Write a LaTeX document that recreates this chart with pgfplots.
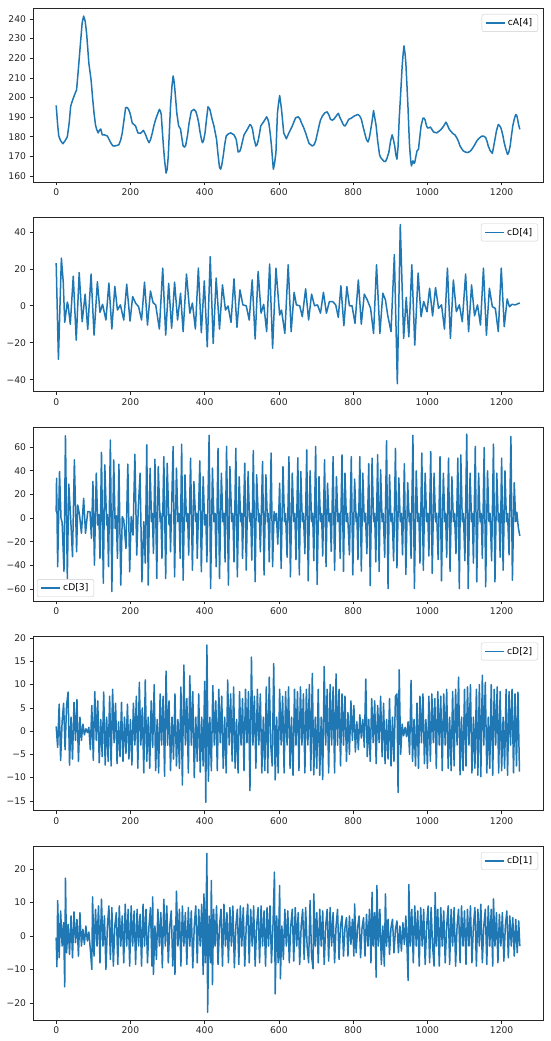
\documentclass[border=0pt]{standalone}
\usepackage{fontspec}
\setmainfont{DejaVu Sans}
\usepackage{pgfplots}
\pgfplotsset{compat=1.18}
\definecolor{mplblue}{RGB}{31,119,180}
\pgfplotsset{
 panel/.style={
  anchor=north west, scale only axis, width=510pt, height=174pt,
  xmin=-62.45, xmax=1311.45,
  xtick={0,200,400,600,800,1000,1200},
  xticklabels={0,200,400,600,800,1000,1200},
  tick align=outside, xtick pos=lower, ytick pos=lower,
  major tick length=3.5pt,
  tick style={black!85, line width=0.7pt},
  axis line style={black!85, line width=0.7pt},
  tick label style={font=\fontsize{9.2}{10}\selectfont, text=black!85},
  legend style={draw=black!20, rounded corners=2pt, fill=white, fill opacity=0.8, text opacity=1,
    font=\fontsize{9.2}{10}\selectfont, inner xsep=3.5pt, inner ysep=2.5pt},
  legend cell align=left,
  legend image code/.code={\draw[##1] (0pt,0pt) -- (19pt,0pt);},
 },
 ser/.style={mplblue, line width=1.5pt, line join=round, mark=none},
 ur/.style={legend style={at={(1,1)}, anchor=north east, xshift=-5pt, yshift=-6pt}},
 ll/.style={legend style={at={(0,0)}, anchor=south west, xshift=4pt, yshift=4pt}},
}
\begin{document}
\begin{tikzpicture}
\useasboundingbox (0,0) rectangle (550pt,-1041pt);
% ---------------- cA[4]
\begin{axis}[panel, ur, at={(33pt,-8pt)}, ymin=157, ymax=245.6,
  ytick={160,170,180,190,200,210,220,230,240},
  yticklabels={160,170,180,190,200,210,220,230,240}]
\addplot[ser] coordinates {(0,196)(4,186)(7,180.4)(12,178)(18,176.5)(24,178)(30,180)(35,187)(39,195.6)(44,198.5)(48,200.7)(55,204)(60,215)(66,229)(70,238)(74,241.5)(78,239)(82,232.7)(88,217.5)(94,209)(98,200)(102,192)(106,186)(109,183.8)(113,182)(117,183.5)(120,184)(124,181)(130,181)(138,180.4)(147,177)(152,175.5)(156,175.3)(162,175.5)(169,176)(174,178.5)(178,182)(183,189)(187,194.8)(191,195)(195,194)(199,192)(205,187)(214,185.5)(220,182)(227,181.8)(231,182.5)(235,183.3)(241,181)(246,178.5)(250,177)(254,178.5)(259,182)(263,185.5)(268,188.9)(273,191.5)(278,194)(281,193)(283,191.4)(286,183)(289,175)(292,168)(296,161.5)(299,163.5)(302,170.3)(305,183)(308,195.6)(312,206)(315,211)(317,209)(319,205.7)(322,199)(325,192)(330,185.5)(335,184)(338,180)(342,175.3)(346,174.8)(349,175.7)(354,181)(358,187)(364,193)(371,194)(376,193)(380,190.5)(384,187)(387,183)(391,179)(394,177)(397,178)(401,182)(405,189)(409,195.3)(414,194)(420,189)(425,185.5)(432,178.7)(436,171)(440,164.4)(443,163.5)(446,165.5)(450,170.3)(454,176)(458,180.4)(464,181.5)(470,182)(475,181.5)(479,181)(485,178.7)(488,175)(490,172.3)(494,172.5)(497,173.7)(501,177)(506,181)(515,183.8)(522,186.3)(526,185.5)(529,183.8)(533,179)(538,175.3)(541,176)(544,177.9)(548,182)(551,185.5)(560,188)(567,190.2)(570,189)(573,187)(577,181)(580,175.3)(583,168)(585,163.5)(588,166)(592,172)(596,192)(599,197)(602,201)(605,197)(607,194)(610,188)(613,182)(620,179)(627,182)(636,185.5)(645,189.7)(652,190.2)(657,189)(661,187)(666,185)(672,182)(677,179)(681,176.7)(690,175.3)(695,176)(699,177.9)(704,182)(708,185.5)(712,188.5)(717,190.5)(724,192.3)(730,192.7)(735,191)(739,188.9)(744,188.5)(748,189)(754,190.5)(760,192)(764,190)(769,188)(774,186)(778,185.5)(783,187)(788,188.9)(795,189.5)(802,190.5)(808,191)(813,191.4)(818,190.5)(822,189)(827,185)(831,182)(836,178.5)(840,177.4)(843,179)(846,182)(851,188)(855,193.4)(858,190)(862,185.5)(866,178)(871,171)(874,169.5)(878,168.6)(883,167.5)(887,167.4)(891,169)(896,172)(901,178)(905,181)(908,179)(912,175.3)(915,171)(918,168.6)(921,175)(924,188.9)(928,202)(932,215.9)(935,223)(937,226.3)(940,222)(942,217.5)(945,206)(948,194)(950,184)(952,175.3)(955,168)(957,165.2)(959,166.5)(961,167.8)(964,166.5)(966,167)(969,170)(972,172.8)(976,173.7)(979,179)(983,185.5)(988,189.5)(991,189.5)(994,188.5)(997,186)(1000,184.6)(1004,184.5)(1008,185)(1012,183.8)(1017,182.4)(1025,182)(1031,182.8)(1037,183.8)(1044,185.5)(1050,187.5)(1054,186)(1059,183.8)(1068,181.8)(1074,181)(1079,179.6)(1084,177.5)(1088,175.3)(1093,173.8)(1097,172.8)(1103,172.2)(1109,172)(1115,172.6)(1120,173.7)(1127,175.8)(1133,177.9)(1140,179.4)(1147,180.4)(1152,180.3)(1157,179.6)(1161,177.5)(1164,175.3)(1169,173)(1175,171.6)(1178,174.5)(1182,178.7)(1186,183)(1191,186.3)(1194,185.8)(1198,184.6)(1203,181)(1207,177)(1211,174)(1216,171)(1219,172)(1223,175.3)(1226,180)(1230,185.5)(1234,189)(1238,191.4)(1241,190.8)(1243,188.9)(1246,186)(1249,183.8)};
\addlegendentry{cA[4]}
\end{axis}
% ---------------- cD[4]
\begin{axis}[panel, ur, at={(33pt,-217.5pt)}, ymin=-46.4, ymax=47.8,
  ytick={-40,-20,0,20,40}, yticklabels={−40,−20,0,20,40}]
\addplot[ser] coordinates {(0,23.1)(6,-29)(14,25.8)(19,13)(23,-9)(30,2)(32,0.5)(38,-10)(46,16)(54,-18.6)(62,18)(70,-8.6)(78,6.3)(85,-12.8)(94,17.2)(102,-15.9)(111,13)(118,-3.5)(125,0.8)(134,-7.7)(142,12.3)(150,-12.6)(158,10.5)(165,-2.3)(173,0.5)(182,-7.7)(190,11.7)(199,-8.3)(206,5)(214,1.4)(222,-0.5)(230,-7.7)(238,12.8)(246,-10.4)(254,8)(261,1.7)(268,0.5)(278,-12.6)(287,20.4)(295,-15.9)(303,12.2)(311,-12.2)(319,12.8)(327,-7.7)(335,6.8)(342,-14)(351,17.2)(360,-4)(367,1.5)(375,-12.6)(383,20.4)(391,-14.6)(399,13.5)(407,-22.2)(415,26.6)(423,-20.4)(431,15)(440,-12.6)(448,11.3)(456,-2.3)(463,-0.1)(471,-9)(479,14.6)(487,-11.7)(495,8.6)(503,0.5)(512,0)(520,-7.7)(528,14)(536,-18)(544,18.6)(552,-4)(559,0.8)(567,-14)(575,22.6)(583,-23)(592,20.4)(602,-5)(607,-2.3)(616,-15)(625,22.2)(633,-14)(641,7.3)(647,0.5)(656,0)(663,-5.9)(672,9.2)(680,-7.7)(688,6.3)(696,0)(704,0.5)(712,-4)(720,7.3)(728,-4)(736,2.3)(745,2.3)(753,0.5)(760,-6.3)(767,10.8)(775,-10.8)(783,10.4)(790,0)(797,0)(805,-9.5)(814,14)(822,-10)(830,6.3)(838,3.2)(847,-1.4)(855,-15)(863,22.2)(872,-15)(880,6.8)(887,3.2)(893,-5)(902,-14)(911,27.7)(919,-42.2)(927,44)(936,-17.7)(943,4.5)(950,-16.8)(958,22.2)(966,-21.3)(975,17.7)(983,-5.9)(990,2.3)(999,-3.2)(1006,9.5)(1014,-5.5)(1022,9.9)(1030,-1.4)(1038,0.5)(1046,-12.6)(1054,20.4)(1062,-17.7)(1070,14)(1078,-3.2)(1086,0.5)(1094,-8.6)(1103,17.2)(1111,-14)(1119,11.3)(1127,-5.4)(1135,0.5)(1143,-10.4)(1151,20.4)(1159,-15.9)(1167,9.5)(1175,-0.5)(1183,-1.4)(1191,-14)(1199,20.4)(1207,-11.3)(1215,3.7)(1221,-0.5)(1228,0.8)(1237,0.5)(1247,1.4)(1249,1.5)};
\addlegendentry{cD[4]}
\end{axis}
% ---------------- cD[3]
\begin{axis}[panel, ll, at={(33pt,-427pt)}, ymin=-70, ymax=77,
  ytick={-60,-40,-20,0,20,40,60}, yticklabels={−60,−40,−20,0,20,40,60}]
\addplot[ser] coordinates {(0,5.5)(1,33.7)(4,-41)(9,39.4)(13,0)(16,-3.5)(21,-45)(25,69.6)(30,-51)(34,28.7)(39,0)(44,-32.6)(49,49.3)(55,-28.4)(58,11.1)(63,2.6)(68,-12.8)(74,16.8)(79,-12.8)(85,5.6)(91,5.6)(95,-17)(99,31)(103,-39.7)(108,38)(112,-5.8)(115,3)(118,-34)(122,55.5)(127,-55)(131,45)(136,-5.8)(138,3)(141,-41)(146,66)(150,-62)(155,49.3)(159,-8.6)(162,2)(165,-34)(169,45.6)(174,-56.6)(178,1.3)(182,-1.5)(188,-25.6)(193,45.6)(198,-45.3)(202,1.3)(207,-14.3)(212,54)(217,-31.2)(221,6.9)(226,38)(231,-53.8)(236,-3)(240,-38)(244,62)(248,-56.6)(253,42.2)(257,-3)(259,4)(262,-29.8)(266,49.8)(271,-51)(275,43.6)(280,-3)(282,4)(285,-34)(290,52)(295,-51)(299,46.4)(304,-5.8)(306,3)(308,-28.4)(315,60.6)(319,-49.6)(324,42.2)(328,-3)(331,4)(334,-34)(338,62.5)(342,-52.4)(347,36.6)(351,-3)(354,4)(357,-31.2)(362,50.7)(367,-44)(371,31)(376,-3)(378,4)(380,-34)(387,48.4)(391,-45.3)(396,35)(400,-5.8)(403,3)(406,-37)(412,70)(416,-59.5)(421,42.2)(425,-3)(428,4)(431,-41)(436,59)(440,-51)(445,38)(449,-3)(452,4)(455,-37)(459,60.6)(464,-56.6)(468,43.6)(473,-3)(476,4)(479,-37)(484,59)(488,-49.6)(493,35)(497,-3)(500,4)(502,-34)(508,46.4)(512,-44)(517,39.4)(521,-3)(524,4)(527,-35.5)(531,57)(536,-53.8)(540,36.6)(545,-3)(547,4)(550,-28.4)(556,47.9)(560,-48)(565,36.6)(569,-3)(571,4)(574,-37)(579,55)(583,-41)(587,5.5)(590,-2)(593,4)(597,-22)(602,29.5)(606,-42.5)(611,43.6)(615,-3)(618,4)(622,-33)(627,52)(631,-49.6)(636,38)(640,-3)(643,4)(646,-35)(651,51)(655,-48)(659,39.4)(663,-3)(666,4)(670,-30)(675,57.7)(679,-53)(684,40)(688,-3)(691,4)(694,-36)(699,60.6)(703,-56)(708,35)(712,-3)(715,4)(718,-32)(723,49.3)(727,-41)(731,29.5)(735,-3)(738,4)(741,-28)(746,52)(750,-44)(755,35)(759,-3)(762,4)(765,-34)(770,53.5)(774,-45)(778,38)(782,-3)(785,4)(790,-31)(795,52)(799,-48)(804,33)(808,-3)(810,4)(813,-35)(818,52)(822,-44.8)(826,38)(830,-3)(833,4)(837,-30)(842,46)(846,-57)(851,50.7)(855,-3)(858,4)(861,-37)(866,53.5)(870,-45)(874,40.8)(878,-3)(881,4)(885,-33)(890,65.4)(894,-59.5)(898,36.6)(902,-3)(905,4)(909,-36)(914,59)(918,-42)(923,34)(927,-3)(930,4)(933,-31)(938,46)(942,-47.6)(947,30)(951,-3)(953,4)(956,-34)(961,70)(965,-59.5)(970,40)(974,-3)(977,4)(980,-38)(985,55)(989,-44)(994,38)(998,-3)(1001,4)(1004,-32)(1009,56.3)(1013,-46.7)(1018,38)(1022,-3)(1025,4)(1029,-35)(1034,52)(1038,-53)(1043,38)(1047,-3)(1049,4)(1052,-33)(1057,50.7)(1061,-45)(1066,35)(1070,-3)(1073,4)(1077,-30)(1082,50.7)(1086,-59.5)(1090,53.5)(1094,-3)(1097,4)(1101,-36)(1106,71)(1110,-59.5)(1115,38)(1119,-3)(1121,4)(1124,-38)(1129,60.6)(1133,-53.8)(1138,38)(1142,-3)(1145,4)(1148,-34)(1153,59.7)(1157,-58)(1162,40)(1166,-3)(1169,4)(1173,-36)(1178,62.5)(1182,-53.8)(1187,38)(1191,-3)(1193,4)(1196,-33)(1200,50.7)(1204,-44)(1209,40)(1213,-3)(1216,4)(1220,-31)(1225,69)(1229,-52.4)(1234,30)(1238,-3)(1241,5)(1245,-8)(1249,-15)};
\addlegendentry{cD[3]}
\end{axis}
% ---------------- cD[2]
\begin{axis}[panel, ur, at={(33pt,-636.5pt)}, ymin=-17.07, ymax=20.34,
  ytick={-15,-10,-5,0,5,10,15,20}, yticklabels={−15,−10,−5,0,5,10,15,20}]
\addplot[ser] coordinates {(0,1)(4,-3.5)(8,5.8)(12,-6.3)(16,2)(20,6)(24,-4)(28,5.5)(32,8.4)(36,-7.3)(40,3)(44,-6)(48,6.2)(52,-2)(56,6.8)(60,-6.5)(64,3)(68,-2)(72,1.5)(76,-0.8)(80,0.5)(84,-0.3)(88,0.8)(92,-4)(96,5.5)(100,-6.3)(104,8.5)(108,-2)(112,6.5)(116,-6.8)(120,2.5)(124,-5.5)(128,8.4)(132,-7.3)(136,3)(140,-6.5)(144,7.5)(148,-7.5)(152,9)(156,-2.5)(160,6)(164,-7)(168,2)(172,-5.5)(176,6.2)(180,-6.5)(184,3)(188,-4.8)(192,5.8)(196,-6)(200,2.5)(204,-7.3)(208,6)(212,-3)(216,7.5)(220,-8)(224,10.5)(228,-3)(232,5)(236,-9)(240,11)(244,-6.5)(248,3)(252,-8)(256,6.5)(260,-3.5)(264,10)(268,-8.5)(272,2.5)(276,-9)(280,8)(284,-3)(288,7.5)(292,-9.7)(296,12.9)(300,-3)(304,6.5)(308,-8.5)(312,3)(316,-6)(320,8)(324,-7.5)(328,2.5)(332,-8)(336,9.5)(340,-11.6)(344,14.2)(348,-3)(352,7)(356,-9)(360,11.9)(364,-3)(368,8.5)(372,-10)(376,3)(380,-6.5)(384,8)(388,-8.8)(392,3)(396,-7.5)(400,10.7)(403,-15.3)(406,18.5)(410,-10.8)(414,3)(418,-8.5)(422,9.8)(426,-3)(430,6.5)(434,-8.5)(438,9)(442,-2.5)(446,7.5)(450,-8)(454,3)(458,-9)(462,11)(466,-3)(470,8)(474,-6.5)(478,9.5)(482,-8)(486,2.5)(490,-9)(494,8.5)(498,-3)(502,7)(506,-8.5)(510,9)(514,-2.5)(518,8.5)(522,-12.8)(526,15.9)(530,-3)(534,7.5)(538,-8)(542,9)(546,-3)(550,8)(554,-9)(558,3)(562,-8.5)(566,9.5)(570,-9)(574,11.6)(578,-3)(582,-7.5)(586,14.5)(590,-10.5)(594,3)(598,-9)(602,9)(606,-3)(610,7.5)(614,-9)(618,8.5)(622,-3)(626,9.5)(630,-8)(634,3)(638,-9.5)(642,9)(646,-3)(650,8.5)(654,-8.5)(658,9.5)(662,-3)(666,8)(670,-9)(674,9)(678,-3)(682,10)(686,-8.5)(690,12.4)(694,-9.4)(698,3)(702,-8)(706,9)(710,-9.5)(714,3)(718,-10.4)(722,13.9)(726,-3)(730,9)(734,-9)(738,10)(742,-3)(746,9.5)(750,-9)(754,12.3)(758,-3)(762,9)(766,-7.5)(770,8)(774,-3)(778,7.5)(782,-6.5)(786,4)(790,-5)(794,6.5)(798,-2)(802,5.5)(806,-4.5)(810,2)(814,-4)(818,3.5)(822,-1.5)(826,2.5)(830,-3.5)(834,11.2)(838,-5.5)(842,2.5)(846,-6.5)(850,7)(854,-2.5)(858,6.5)(862,-7)(866,5.5)(870,-2.5)(874,7.5)(878,-5.5)(882,6)(886,-7)(890,2.5)(894,-6)(898,7)(902,-7.5)(906,3)(910,-6.5)(914,7.5)(918,8)(921,-13.2)(924,13.2)(928,-5)(932,1.5)(936,-1)(940,0.8)(944,-1.2)(948,2)(952,-5)(956,10.9)(960,-6.5)(964,2.5)(968,-7.5)(972,6)(976,-8)(980,7.5)(984,-2.5)(988,8)(992,-7)(996,2.5)(1000,-8)(1004,7.5)(1008,-6.5)(1012,8)(1016,-2.5)(1020,7)(1024,-8)(1028,8.5)(1032,-3)(1036,7.5)(1040,-8.5)(1044,8)(1048,-3)(1052,9)(1056,-8)(1060,3)(1064,-8.5)(1068,8.5)(1072,-7.5)(1076,9)(1080,-3)(1084,11.6)(1088,-9.4)(1092,3)(1096,-8.5)(1100,9)(1104,-7.5)(1108,9.5)(1112,-3)(1116,10)(1120,-9)(1124,3)(1128,-8)(1132,9)(1136,-9.5)(1140,10)(1144,-9.8)(1148,12)(1152,-3)(1156,10.5)(1160,-9)(1164,3)(1168,-8)(1172,10)(1176,-9.5)(1180,9)(1184,-3)(1188,9.5)(1192,-9)(1196,8.5)(1200,-8.5)(1204,3)(1208,-8)(1212,9)(1216,-9.5)(1220,8.5)(1224,-3)(1228,9)(1232,-9)(1236,8)(1240,-7.5)(1244,8.4)(1248,-8.7)};
\addlegendentry{cD[2]}
\end{axis}
% ---------------- cD[1]
\begin{axis}[panel, ur, at={(33pt,-846pt)}, ymin=-25.1, ymax=26.9,
  ytick={-20,-10,0,10,20}, yticklabels={−20,−10,0,10,20}]
\addplot[ser] coordinates {(0,-0.5)(2,-9.2)(4,10.6)(8,-6.5)(12,7.5)(16,-3)(20,4)(23,-15.2)(25,17.3)(28,-5)(32,3.5)(36,-5.5)(40,6)(44,-6.5)(48,7.2)(52,-2)(56,5)(60,-6)(64,7)(68,-3)(72,2)(76,-2.5)(80,3)(84,-1.5)(88,1.2)(92,-4)(96,-10)(98,11.7)(102,-6)(106,8)(110,-3)(114,9)(118,-8)(122,11)(126,-3)(130,6)(134,-10)(138,3)(142,9)(146,-7)(150,8.5)(154,-9)(158,3)(162,7)(166,-8.5)(170,9)(174,-3)(178,6)(182,-8)(186,9.5)(190,-3)(194,8)(198,-9)(202,9)(206,-3)(210,7.5)(214,-8.5)(218,8)(222,-3)(226,6.5)(230,-9)(234,9.5)(238,-3)(242,8)(246,-8)(250,3)(254,8.5)(258,-9)(260,11.7)(262,-11.5)(266,3)(270,-7)(274,8)(278,-3)(282,7)(286,-9.5)(290,11)(294,-3)(298,9)(302,-8)(306,3)(310,7.5)(314,-9)(318,3)(320,-11.5)(324,13.4)(328,-3)(332,8)(336,-9)(340,9)(344,-3)(348,7)(352,-8.5)(356,8.5)(360,-3)(364,7.5)(368,-9.5)(372,3)(376,9)(380,-8)(384,8)(388,-3)(392,9.5)(396,-11.5)(398,12.6)(402,-8)(406,24.7)(408,-22.8)(412,6)(416,-8)(418,16.6)(421,-14.5)(424,8)(428,-3)(432,9)(436,-8.5)(440,3)(444,8)(448,-9)(452,9.5)(456,-3)(460,7)(464,-8)(468,8.5)(472,-3)(476,9)(480,-9.5)(484,3)(488,8)(492,-8.5)(496,9)(500,-3)(504,8.5)(508,-9)(512,3)(516,9.5)(520,-8)(524,8)(528,-3)(532,9)(536,-9)(540,3)(544,8.5)(548,-8)(552,9)(556,-3)(560,7.5)(564,-9)(568,8.5)(572,-3)(576,9)(580,-8)(584,3)(588,19.1)(590,-17.3)(594,6)(598,-8)(602,15.1)(604,-12.8)(608,3)(612,-7)(616,8)(620,-3)(624,7.5)(628,-8)(632,3)(636,8)(640,-7.5)(644,8.5)(648,-3)(652,7)(656,-8.5)(660,3)(664,8)(668,-7)(672,8.5)(676,-3)(680,-8)(684,10.6)(688,-6)(692,-9.8)(694,12.6)(698,-3)(702,7)(706,-8)(710,8)(714,-3)(718,7.5)(722,-8.5)(726,3)(730,8)(734,-7.5)(738,8.5)(742,-3)(746,7)(750,-8)(754,3)(758,8)(762,-7)(766,3)(770,6)(774,-6)(778,2.5)(782,5.5)(786,-6)(790,6)(794,-2.5)(798,5)(802,-6)(804,9.6)(808,-5)(812,2.5)(816,6)(820,-6.5)(824,2.5)(828,5.5)(832,-6)(836,6.5)(840,-3)(844,8)(848,-8)(851,13.1)(854,-3)(858,7)(862,-12.3)(864,15.1)(868,-3)(872,8)(876,-8.5)(880,3)(884,-9)(887,12.6)(890,-3)(894,5)(898,-5.5)(902,2.5)(906,5)(910,-5)(914,2)(918,4.5)(922,-5)(926,3)(930,-4.5)(934,4)(938,-2.5)(942,6)(946,-6)(948,-13.3)(950,15.4)(954,-3)(958,8)(962,-8)(966,9)(970,-3)(974,7.5)(978,-9)(982,8.5)(986,-3)(990,8)(994,-8.5)(998,3)(1002,9)(1006,-8)(1010,8.5)(1014,-3)(1018,-9)(1021,13)(1024,-3)(1028,8)(1032,-9)(1036,8.5)(1040,-3)(1044,7.5)(1048,-8)(1052,3)(1056,9)(1060,-8.5)(1064,8)(1068,-3)(1072,8.5)(1076,-9)(1080,3)(1084,8)(1088,-8)(1092,9)(1096,-3)(1100,7.5)(1104,-8.5)(1108,8)(1112,-3)(1116,9)(1120,-8)(1124,3)(1128,8.5)(1132,-9)(1136,8)(1140,-3)(1144,9.5)(1148,-8)(1152,3)(1156,8)(1160,-8.5)(1164,9)(1168,-3)(1172,8)(1176,-9)(1178,11.1)(1182,-3)(1186,7)(1190,-8)(1194,6.5)(1198,-3)(1202,7)(1206,-7.5)(1210,3)(1214,7.5)(1218,-6.5)(1222,6)(1226,-3)(1230,5.5)(1234,-6)(1238,5)(1242,-5)(1246,4.5)(1249,-3)};
\addlegendentry{cD[1]}
\end{axis}
\end{tikzpicture}
\end{document}
